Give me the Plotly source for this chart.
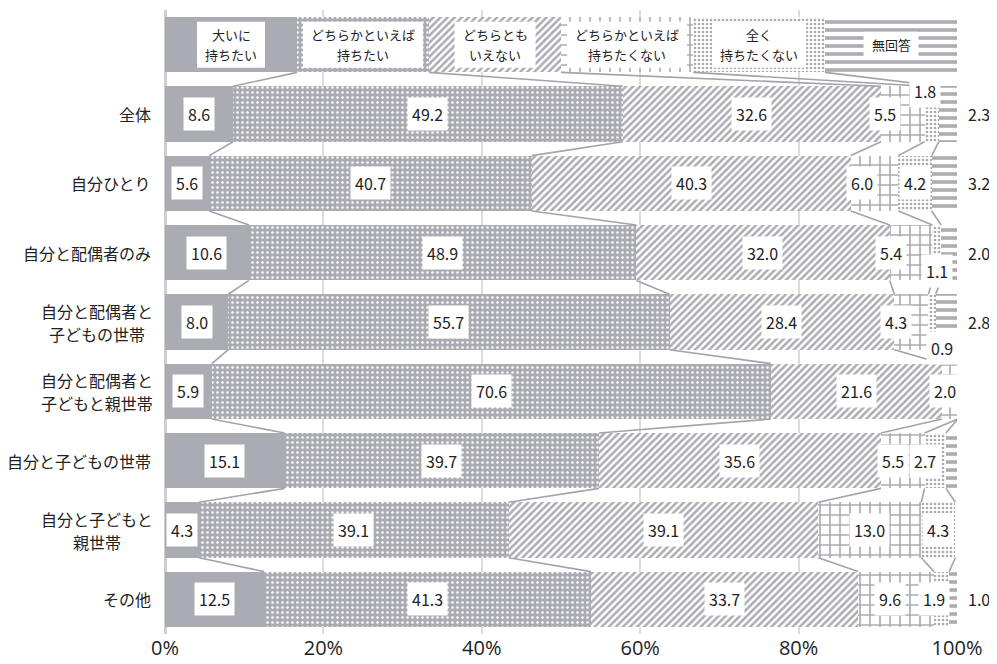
import plotly.graph_objects as go

# ---------------- data ----------------
categories = ["全体", "自分ひとり", "自分と配偶者のみ", "自分と配偶者と<br>子どもの世帯",
              "自分と配偶者と<br>子どもと親世帯", "自分と子どもの世帯", "自分と子どもと<br>親世帯", "その他"]
series_names = ["大いに持ちたい", "どちらかといえば持ちたい", "どちらともいえない",
                "どちらかといえば持ちたくない", "全く持ちたくない", "無回答"]
header_labels = ["大いに<br>持ちたい", "どちらかといえば<br>持ちたい", "どちらとも<br>いえない",
                 "どちらかといえば<br>持ちたくない", "全く<br>持ちたくない", "無回答"]
header_share = [16.67, 16.67, 16.67, 16.67, 16.66, 16.66]

v_great = [8.6, 5.6, 10.6, 8.0, 5.9, 15.1, 4.3, 12.5]
v_rather = [49.2, 40.7, 48.9, 55.7, 70.6, 39.7, 39.1, 41.3]
v_neutral = [32.6, 40.3, 32.0, 28.4, 21.6, 35.6, 39.1, 33.7]
v_rather_not = [5.5, 6.0, 5.4, 4.3, 2.0, 5.5, 13.0, 9.6]
v_not_at_all = [1.8, 4.2, 1.1, 0.9, 0.0, 2.7, 4.3, 1.9]
v_no_answer = [2.3, 3.2, 2.0, 2.8, 0.0, 1.4, 0.0, 1.0]
series_values = [v_great, v_rather, v_neutral, v_rather_not, v_not_at_all, v_no_answer]

x_ticks = [0, 20, 40, 60, 80, 100]
x_tick_text = ["0%", "20%", "40%", "60%", "80%", "100%"]

# ---------------- styles ----------------
GRAY = "#ababb3"
LINE = "#a3a3a8"
WHITE = "#ffffff"
TEXT = "#222222"
FONT = "Noto Sans CJK JP"
HEAD_FS = 13
CAT_FS = 16
VAL_FS = 16
patterns = [
    dict(shape="", fgcolor=GRAY, bgcolor=GRAY),
    dict(shape=".", fgcolor=WHITE, bgcolor=GRAY, size=5, solidity=0.2, fillmode="replace"),
    dict(shape="/", fgcolor=GRAY, bgcolor=WHITE, size=5, solidity=0.5, fillmode="replace"),
    dict(shape="+", fgcolor=GRAY, bgcolor=WHITE, size=10, solidity=0.3, fillmode="replace"),
    dict(shape=".", fgcolor=GRAY, bgcolor=WHITE, size=4, solidity=0.35, fillmode="replace"),
    dict(shape="-", fgcolor=GRAY, bgcolor=WHITE, size=8, solidity=0.45, fillmode="replace"),
]

# label placement tweaks: (row index, series index) -> (xshift px, yshift px) or "out" (right of plot)
label_place = {
    (0, 3): (-18, 0), (0, 4): (-7, 23), (0, 5): "out",
    (1, 3): (-13, 0), (1, 5): "out",
    (2, 3): (-20, 0), (2, 4): (0, -18), (2, 5): "out",
    (3, 3): (-15, 0), (3, 4): (10, -26), (3, 5): "out",
    (4, 3): (-5, 0),
    (5, 3): (-10, 0), (5, 4): (-10, 0),
    (7, 3): (-6, 0), (7, 4): (-8, 0), (7, 5): "out",
}
hidden_labels = {(5, 5)}

rows = list(range(1, len(categories) + 1))
BAR_W = 0.8

fig = go.Figure()
for i, name in enumerate(series_names):
    fig.add_trace(go.Bar(
        x=[header_share[i]] + series_values[i],
        y=[0] + rows,
        orientation="h",
        width=BAR_W,
        name=name,
        marker=dict(color=GRAY, line=dict(width=0), pattern=patterns[i]),
        hoverinfo="skip",
        showlegend=False,
    ))

# connector lines between bar boundaries
all_rows = [header_share] + [[series_values[s][r] for s in range(6)] for r in range(len(categories))]
cums = []
for vals in all_rows:
    c, acc = [], 0.0
    for v in vals[:-1]:
        acc += v
        c.append(acc)
    cums.append(c)
lx, ly = [], []
for r in range(len(all_rows) - 1):
    for k in range(5):
        lx += [cums[r][k], cums[r + 1][k], None]
        ly += [r + BAR_W / 2, r + 1 - BAR_W / 2, None]
fig.add_trace(go.Scatter(x=lx, y=ly, mode="lines", line=dict(color=LINE, width=1.6),
                         hoverinfo="skip", showlegend=False))

annotations = []
shapes = []

# header labels: white box + one annotation per line
HEAD_LINE = 20
acc = 0.0
for i, lab in enumerate(header_labels):
    cx = acc + header_share[i] / 2
    acc += header_share[i]
    lines = lab.split("<br>")
    maxlen = max(len(t) for t in lines)
    bw = maxlen * HEAD_FS + 16
    bh = len(lines) * HEAD_LINE + 6
    shapes.append(dict(type="rect", xref="x", yref="y", xsizemode="pixel", ysizemode="pixel",
                       xanchor=cx, yanchor=0, x0=-bw / 2, x1=bw / 2, y0=-bh / 2, y1=bh / 2,
                       fillcolor=WHITE, line=dict(width=0), layer="above"))
    n = len(lines)
    for j, t in enumerate(lines):
        annotations.append(dict(x=cx, y=0, xref="x", yref="y", text=t,
                                yshift=((n - 1) / 2 - j) * HEAD_LINE,
                                showarrow=False, font=dict(size=HEAD_FS, color=TEXT, family=FONT)))

# value labels
for r in range(len(categories)):
    acc = 0.0
    for s in range(6):
        v = series_values[s][r]
        center = acc + v / 2
        acc += v
        if v <= 0 or (r, s) in hidden_labels:
            continue
        place = label_place.get((r, s), (0, 0))
        if place == "out":
            a = dict(x=100, xshift=22, y=rows[r], yshift=0)
        else:
            a = dict(x=center, xshift=place[0], y=rows[r], yshift=place[1],
                     bgcolor=WHITE, borderpad=4)
        a.update(xref="x", yref="y", text=f"{v:.1f}", showarrow=False,
                 font=dict(size=VAL_FS, color=TEXT, family=FONT))
        annotations.append(a)

# category labels (multi-line ones are centred as a block, right edge next to the axis)
CAT_LINE = 23
CAT_GAP = 12
for r, cat in enumerate(categories):
    lines = cat.split("<br>")
    n = len(lines)
    if n == 1:
        annotations.append(dict(x=0, xref="paper", xshift=-CAT_GAP, y=rows[r], yref="y", text=cat,
                                xanchor="right", showarrow=False,
                                font=dict(size=CAT_FS, color=TEXT, family=FONT)))
    else:
        maxlen = max(len(t) for t in lines)
        cshift = -CAT_GAP - maxlen * CAT_FS / 2
        for j, t in enumerate(lines):
            annotations.append(dict(x=0, xref="paper", xshift=cshift, y=rows[r], yref="y", text=t,
                                    yshift=((n - 1) / 2 - j) * CAT_LINE,
                                    xanchor="center", showarrow=False,
                                    font=dict(size=CAT_FS, color=TEXT, family=FONT)))

fig.update_layout(
    barmode="stack",
    width=989, height=656,
    margin=dict(l=157, r=40, t=2, b=30),
    paper_bgcolor=WHITE, plot_bgcolor=WHITE,
    annotations=annotations,
    shapes=shapes,
    font=dict(family=FONT),
    bargap=0.2,
)
fig.update_xaxes(range=[0, 100], tickvals=x_ticks, ticktext=x_tick_text, showgrid=True,
                 gridcolor="#dcdcdc", gridwidth=1.5, zeroline=True, zerolinecolor="#cfcfcf",
                 zerolinewidth=3, tickfont=dict(size=20, color=TEXT, family="Open Sans"),
                 ticks="", showline=False, fixedrange=True, automargin=False)
fig.update_yaxes(range=[len(categories) + 0.5, -0.5], showticklabels=False, showgrid=False,
                 zeroline=False, fixedrange=True)

fig.write_html("out.html")
